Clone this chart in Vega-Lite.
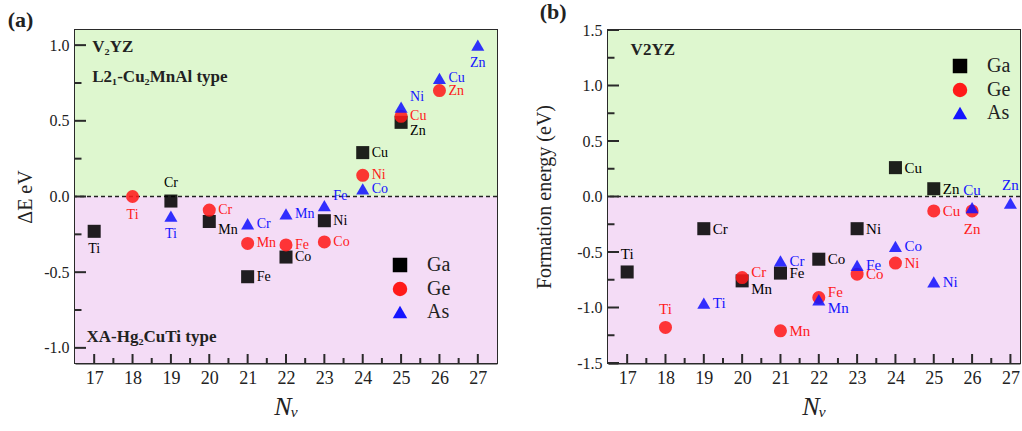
{
  "$schema": "https://vega.github.io/schema/vega-lite/v6.json",
  "padding": {"left": 6, "top": 0, "right": 0, "bottom": 4},
  "spacing": 34,
  "config": {
    "font": "Liberation Serif",
    "view": {"stroke": "#2a2a2a", "strokeWidth": 2},
    "axis": {"grid": false, "zindex": 2, "labelFont": "Liberation Serif", "titleFont": "Liberation Serif", "labelColor": "#222", "titleColor": "#222", "domainColor": "#2a2a2a", "domainWidth": 2, "tickColor": "#2a2a2a", "tickWidth": 2, "titleFontWeight": "normal"},
    "legend": {"labelFont": "Liberation Serif", "labelFontSize": 20, "labelColor": "#222"}
  },
  "resolve": {"scale": {"x": "independent", "y": "independent", "color": "independent", "shape": "independent"}, "legend": {"color": "independent", "shape": "independent"}},
  "datasets": {
    "a": [
      {"Nv": 17, "E": -0.23, "Z": "Ga", "Y": "Ti", "side": "below"},
      {"Nv": 19, "E": -0.03, "Z": "Ga", "Y": "Cr", "side": "above"},
      {"Nv": 20, "E": -0.165, "Z": "Ga", "Y": "Mn", "side": "rightbelow"},
      {"Nv": 21, "E": -0.53, "Z": "Ga", "Y": "Fe", "side": "right"},
      {"Nv": 22, "E": -0.4, "Z": "Ga", "Y": "Co", "side": "right"},
      {"Nv": 23, "E": -0.16, "Z": "Ga", "Y": "Ni", "side": "right"},
      {"Nv": 24, "E": 0.29, "Z": "Ga", "Y": "Cu", "side": "right"},
      {"Nv": 25, "E": 0.49, "Z": "Ga", "Y": "Zn", "side": "rightbelow"},
      {"Nv": 18, "E": 0.0, "Z": "Ge", "Y": "Ti", "side": "below"},
      {"Nv": 20, "E": -0.09, "Z": "Ge", "Y": "Cr", "side": "right"},
      {"Nv": 21, "E": -0.31, "Z": "Ge", "Y": "Mn", "side": "right"},
      {"Nv": 22, "E": -0.32, "Z": "Ge", "Y": "Fe", "side": "right"},
      {"Nv": 23, "E": -0.3, "Z": "Ge", "Y": "Co", "side": "right"},
      {"Nv": 24, "E": 0.14, "Z": "Ge", "Y": "Ni", "side": "right"},
      {"Nv": 25, "E": 0.53, "Z": "Ge", "Y": "Cu", "side": "right"},
      {"Nv": 26, "E": 0.7, "Z": "Ge", "Y": "Zn", "side": "right"},
      {"Nv": 19, "E": -0.13, "Z": "As", "Y": "Ti", "side": "below"},
      {"Nv": 21, "E": -0.18, "Z": "As", "Y": "Cr", "side": "right"},
      {"Nv": 22, "E": -0.115, "Z": "As", "Y": "Mn", "side": "right"},
      {"Nv": 23, "E": -0.06, "Z": "As", "Y": "Fe", "side": "rightabove"},
      {"Nv": 24, "E": 0.05, "Z": "As", "Y": "Co", "side": "right"},
      {"Nv": 25, "E": 0.59, "Z": "As", "Y": "Ni", "side": "rightabove"},
      {"Nv": 26, "E": 0.78, "Z": "As", "Y": "Cu", "side": "right"},
      {"Nv": 27, "E": 1.0, "Z": "As", "Y": "Zn", "side": "below"}
    ],
    "b": [
      {"Nv": 17, "E": -0.68, "Z": "Ga", "Y": "Ti", "side": "above"},
      {"Nv": 19, "E": -0.29, "Z": "Ga", "Y": "Cr", "side": "right"},
      {"Nv": 20, "E": -0.76, "Z": "Ga", "Y": "Mn", "side": "rightbelow"},
      {"Nv": 21, "E": -0.69, "Z": "Ga", "Y": "Fe", "side": "right"},
      {"Nv": 22, "E": -0.565, "Z": "Ga", "Y": "Co", "side": "right"},
      {"Nv": 23, "E": -0.29, "Z": "Ga", "Y": "Ni", "side": "right"},
      {"Nv": 24, "E": 0.26, "Z": "Ga", "Y": "Cu", "side": "right"},
      {"Nv": 25, "E": 0.07, "Z": "Ga", "Y": "Zn", "side": "right"},
      {"Nv": 18, "E": -1.18, "Z": "Ge", "Y": "Ti", "side": "above"},
      {"Nv": 20, "E": -0.73, "Z": "Ge", "Y": "Cr", "side": "rightabove"},
      {"Nv": 21, "E": -1.21, "Z": "Ge", "Y": "Mn", "side": "right"},
      {"Nv": 22, "E": -0.91, "Z": "Ge", "Y": "Fe", "side": "rightabove"},
      {"Nv": 23, "E": -0.7, "Z": "Ge", "Y": "Co", "side": "right"},
      {"Nv": 24, "E": -0.6, "Z": "Ge", "Y": "Ni", "side": "right"},
      {"Nv": 25, "E": -0.13, "Z": "Ge", "Y": "Cu", "side": "right"},
      {"Nv": 26, "E": -0.13, "Z": "Ge", "Y": "Zn", "side": "below"},
      {"Nv": 19, "E": -0.96, "Z": "As", "Y": "Ti", "side": "right"},
      {"Nv": 21, "E": -0.58, "Z": "As", "Y": "Cr", "side": "right"},
      {"Nv": 22, "E": -0.93, "Z": "As", "Y": "Mn", "side": "rightbelow"},
      {"Nv": 23, "E": -0.62, "Z": "As", "Y": "Fe", "side": "right"},
      {"Nv": 24, "E": -0.45, "Z": "As", "Y": "Co", "side": "right"},
      {"Nv": 25, "E": -0.77, "Z": "As", "Y": "Ni", "side": "right"},
      {"Nv": 26, "E": -0.1, "Z": "As", "Y": "Cu", "side": "above"},
      {"Nv": 27, "E": -0.06, "Z": "As", "Y": "Zn", "side": "above"}
    ]
  },
  "hconcat": [
    {
      "width": 422,
      "height": 333,
      "title": {"text": "(a)", "anchor": "start", "frame": "bounds", "font": "Liberation Serif", "fontSize": 22, "fontWeight": "bold", "color": "#222", "offset": -2, "dx": -8},
      "layer": [
        {
          "data": {"values": [{"lo": 0, "hi": 1.1}]},
          "mark": {"type": "rect", "color": "#def7cf"},
          "encoding": {
            "y": {"field": "lo", "type": "quantitative", "scale": {"domain": [-1.1, 1.1], "nice": false, "zero": false},
              "axis": {"title": "ΔE eV", "titleFontSize": 20, "titlePadding": 8, "values": [-1, -0.5, 0, 0.5, 1],
                "format": ".1f", "labelExpr": "replace(datum.label, '−', '-')",
                "labelFontSize": 16, "labelPadding": 16, "tickSize": -10}},
            "y2": {"field": "hi"}
          }
        },
        {
          "data": {"values": [{"lo": -1.1, "hi": 0}]},
          "mark": {"type": "rect", "color": "#f4dcf6"},
          "encoding": {
            "y": {"field": "lo", "type": "quantitative"},
            "y2": {"field": "hi"}
          }
        },
        {
          "data": {"values": [{"v": 0}]},
          "mark": {"type": "rule", "color": "#222", "strokeDash": [4, 3], "strokeWidth": 1.5},
          "encoding": {"y": {"field": "v", "type": "quantitative"}}
        },
        {
          "data": {"values": [{"m": -0.75}, {"m": -0.25}, {"m": 0.25}, {"m": 0.75}]},
          "mark": {"type": "tick", "orient": "horizontal", "color": "#2a2a2a", "size": 13, "thickness": 2, "clip": true, "opacity": 1},
          "encoding": {"y": {"field": "m", "type": "quantitative"}, "x": {"value": 0}}
        },
        {
          "data": {"values": [{"m": -1}, {"m": -0.5}, {"m": 0}, {"m": 0.5}, {"m": 1}]},
          "mark": {"type": "tick", "orient": "horizontal", "color": "#2a2a2a", "size": 22, "thickness": 2, "clip": true, "opacity": 1},
          "encoding": {"y": {"field": "m", "type": "quantitative"}, "x": {"value": 0}}
        },
        {
          "data": {"values": [{"m": 17.5}, {"m": 18.5}, {"m": 19.5}, {"m": 20.5}, {"m": 21.5}, {"m": 22.5}, {"m": 23.5}, {"m": 24.5}, {"m": 25.5}, {"m": 26.5}]},
          "mark": {"type": "tick", "orient": "vertical", "color": "#2a2a2a", "size": 10, "thickness": 2, "clip": true, "opacity": 1},
          "encoding": {"x": {"field": "m", "type": "quantitative"}, "y": {"datum": -1.1}}
        },
        {
          "data": {"values": [{"m": 17}, {"m": 18}, {"m": 19}, {"m": 20}, {"m": 21}, {"m": 22}, {"m": 23}, {"m": 24}, {"m": 25}, {"m": 26}, {"m": 27}]},
          "mark": {"type": "tick", "orient": "vertical", "color": "#2a2a2a", "size": 18, "thickness": 2, "clip": true, "opacity": 1},
          "encoding": {"x": {"field": "m", "type": "quantitative"}, "y": {"datum": -1.1}}
        },
        {
          "data": {"name": "a"},
          "mark": {"type": "point", "filled": true, "size": 170, "opacity": 0.87},
          "encoding": {
            "x": {"field": "Nv", "type": "quantitative", "scale": {"domain": [16.5, 27.5], "nice": false, "zero": false},
              "axis": {"title": "Nᵥ", "titleFontSize": 26, "titleFontStyle": "italic", "titlePadding": 6, "values": [17, 18, 19, 20, 21, 22, 23, 24, 25, 26, 27],
                "labelFontSize": 18, "labelPadding": 15, "tickSize": -9}},
            "y": {"field": "E", "type": "quantitative"},
            "shape": {"field": "Z", "type": "nominal", "scale": {"domain": ["Ga", "Ge", "As"], "range": ["square", "circle", "triangle-up"]},
              "legend": {"title": null, "orient": "none", "legendX": 315, "legendY": 225, "symbolSize": 210, "symbolOpacity": 1, "rowPadding": 2, "labelOffset": 17}},
            "color": {"field": "Z", "type": "nominal", "scale": {"domain": ["Ga", "Ge", "As"], "range": ["#000000", "#ff1a1a", "#1414ff"]},
              "legend": {"title": null, "orient": "none", "legendX": 315, "legendY": 225, "symbolSize": 210, "symbolOpacity": 1, "rowPadding": 2, "labelOffset": 17}}
          }
        },
        {
          "data": {"name": "a"},
          "mark": {"type": "text", "font": "Liberation Serif", "fontSize": 14,
            "align": {"expr": "datum.side == 'below' || datum.side == 'above' ? 'center' : 'left'"},
            "baseline": "middle",
            "dx": {"expr": "datum.side == 'below' || datum.side == 'above' ? 0 : 9"},
            "dy": {"expr": "datum.side == 'below' ? 18 : datum.side == 'above' ? -18 : datum.side == 'rightbelow' ? 9 : datum.side == 'rightabove' ? -10 : 0"}},
          "encoding": {
            "x": {"field": "Nv", "type": "quantitative"},
            "y": {"field": "E", "type": "quantitative"},
            "text": {"field": "Y"},
            "color": {"field": "Z", "type": "nominal", "legend": null}
          }
        },
        {
          "data": {"values": [
            {"x": 16.95, "y": 0.99, "t": "V₂YZ"},
            {"x": 16.95, "y": 0.79, "t": "L2₁-Cu₂MnAl type"},
            {"x": 16.8, "y": -0.93, "t": "XA-Hg₂CuTi type"}
          ]},
          "mark": {"type": "text", "font": "Liberation Serif", "fontSize": 17, "fontWeight": "bold", "align": "left", "baseline": "middle", "color": "#222"},
          "encoding": {
            "x": {"field": "x", "type": "quantitative"},
            "y": {"field": "y", "type": "quantitative"},
            "text": {"field": "t"}
          }
        }
      ]
    },
    {
      "width": 412,
      "height": 333,
      "title": {"text": "(b)", "anchor": "start", "frame": "bounds", "font": "Liberation Serif", "fontSize": 22, "fontWeight": "bold", "color": "#222", "offset": -2, "dx": 5},
      "layer": [
        {
          "data": {"values": [{"lo": 0, "hi": 1.5}]},
          "mark": {"type": "rect", "color": "#def7cf"},
          "encoding": {
            "y": {"field": "lo", "type": "quantitative", "scale": {"domain": [-1.5, 1.5], "nice": false, "zero": false},
              "axis": {"title": "Formation energy (eV)", "titleFontSize": 20, "titlePadding": 22, "values": [-1.5, -1, -0.5, 0, 0.5, 1, 1.5],
                "format": ".1f", "labelExpr": "replace(datum.label, '−', '-')",
                "labelFontSize": 16, "labelPadding": 16, "tickSize": -10}},
            "y2": {"field": "hi"}
          }
        },
        {
          "data": {"values": [{"lo": -1.5, "hi": 0}]},
          "mark": {"type": "rect", "color": "#f4dcf6"},
          "encoding": {
            "y": {"field": "lo", "type": "quantitative"},
            "y2": {"field": "hi"}
          }
        },
        {
          "data": {"values": [{"v": 0}]},
          "mark": {"type": "rule", "color": "#222", "strokeDash": [4, 3], "strokeWidth": 1.5},
          "encoding": {"y": {"field": "v", "type": "quantitative"}}
        },
        {
          "data": {"values": [{"m": -1.25}, {"m": -0.75}, {"m": -0.25}, {"m": 0.25}, {"m": 0.75}, {"m": 1.25}]},
          "mark": {"type": "tick", "orient": "horizontal", "color": "#2a2a2a", "size": 13, "thickness": 2, "clip": true, "opacity": 1},
          "encoding": {"y": {"field": "m", "type": "quantitative"}, "x": {"value": 0}}
        },
        {
          "data": {"values": [{"m": -1.5}, {"m": -1}, {"m": -0.5}, {"m": 0}, {"m": 0.5}, {"m": 1}, {"m": 1.5}]},
          "mark": {"type": "tick", "orient": "horizontal", "color": "#2a2a2a", "size": 22, "thickness": 2, "clip": true, "opacity": 1},
          "encoding": {"y": {"field": "m", "type": "quantitative"}, "x": {"value": 0}}
        },
        {
          "data": {"values": [{"m": 17.5}, {"m": 18.5}, {"m": 19.5}, {"m": 20.5}, {"m": 21.5}, {"m": 22.5}, {"m": 23.5}, {"m": 24.5}, {"m": 25.5}, {"m": 26.5}]},
          "mark": {"type": "tick", "orient": "vertical", "color": "#2a2a2a", "size": 10, "thickness": 2, "clip": true, "opacity": 1},
          "encoding": {"x": {"field": "m", "type": "quantitative"}, "y": {"datum": -1.5}}
        },
        {
          "data": {"values": [{"m": 17}, {"m": 18}, {"m": 19}, {"m": 20}, {"m": 21}, {"m": 22}, {"m": 23}, {"m": 24}, {"m": 25}, {"m": 26}, {"m": 27}]},
          "mark": {"type": "tick", "orient": "vertical", "color": "#2a2a2a", "size": 18, "thickness": 2, "clip": true, "opacity": 1},
          "encoding": {"x": {"field": "m", "type": "quantitative"}, "y": {"datum": -1.5}}
        },
        {
          "data": {"name": "b"},
          "mark": {"type": "point", "filled": true, "size": 170, "opacity": 0.87},
          "encoding": {
            "x": {"field": "Nv", "type": "quantitative", "scale": {"domain": [16.5, 27.25], "nice": false, "zero": false},
              "axis": {"title": "Nᵥ", "titleFontSize": 26, "titleFontStyle": "italic", "titlePadding": 6, "values": [17, 18, 19, 20, 21, 22, 23, 24, 25, 26, 27],
                "labelFontSize": 18, "labelPadding": 15, "tickSize": -9}},
            "y": {"field": "E", "type": "quantitative"},
            "shape": {"field": "Z", "type": "nominal", "scale": {"domain": ["Ga", "Ge", "As"], "range": ["square", "circle", "triangle-up"]},
              "legend": {"title": null, "orient": "none", "legendX": 342, "legendY": 26, "symbolSize": 210, "symbolOpacity": 1, "rowPadding": 2, "labelOffset": 17}},
            "color": {"field": "Z", "type": "nominal", "scale": {"domain": ["Ga", "Ge", "As"], "range": ["#000000", "#ff1a1a", "#1414ff"]},
              "legend": {"title": null, "orient": "none", "legendX": 342, "legendY": 26, "symbolSize": 210, "symbolOpacity": 1, "rowPadding": 2, "labelOffset": 17}}
          }
        },
        {
          "data": {"name": "b"},
          "mark": {"type": "text", "font": "Liberation Serif", "fontSize": 15,
            "align": {"expr": "datum.side == 'below' || datum.side == 'above' ? 'center' : 'left'"},
            "baseline": "middle",
            "dx": {"expr": "datum.side == 'below' || datum.side == 'above' ? 0 : 9"},
            "dy": {"expr": "datum.side == 'below' ? 18 : datum.side == 'above' ? -18 : datum.side == 'rightbelow' ? 8 : datum.side == 'rightabove' ? -6 : 0"}},
          "encoding": {
            "x": {"field": "Nv", "type": "quantitative"},
            "y": {"field": "E", "type": "quantitative"},
            "text": {"field": "Y"},
            "color": {"field": "Z", "type": "nominal", "legend": null}
          }
        },
        {
          "data": {"values": [{"x": 17.09, "y": 1.32, "t": "V2YZ"}]},
          "mark": {"type": "text", "font": "Liberation Serif", "fontSize": 17, "fontWeight": "bold", "align": "left", "baseline": "middle", "color": "#222"},
          "encoding": {
            "x": {"field": "x", "type": "quantitative"},
            "y": {"field": "y", "type": "quantitative"},
            "text": {"field": "t"}
          }
        }
      ]
    }
  ]
}
